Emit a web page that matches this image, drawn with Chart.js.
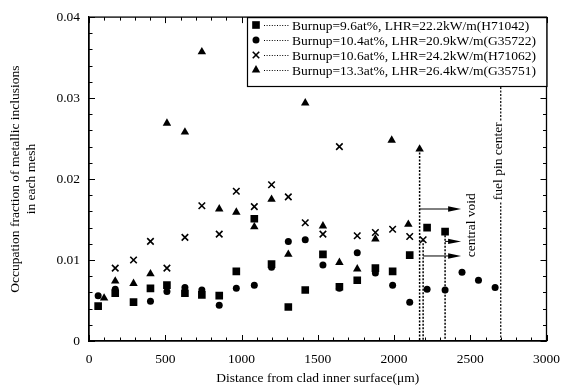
<!DOCTYPE html>
<html><head><meta charset="utf-8">
<script src="https://cdn.jsdelivr.net/npm/chart.js@4.4.0/dist/chart.umd.min.js"></script>
<style>html,body{margin:0;padding:0;background:#fff;}#wrap{width:570px;height:388px;}</style>
</head><body><div id="wrap"><canvas id="c" width="570" height="388"></canvas></div>
<script>
// ---- data (distance from clad inner surface in um, occupation fraction) ----
const seriesLabels = [
  'Burnup=9.6at%, LHR=22.2kW/m(H71042)',
  'Burnup=10.4at%, LHR=20.9kW/m(G35722)',
  'Burnup=10.6at%, LHR=24.2kW/m(H71062)',
  'Burnup=13.3at%, LHR=26.4kW/m(G35751)'
];
const xH71042 = [60,172,292,403,511,629,740,854,966,1084,1197,1307,1418,1534,1642,1759,1878,1991,2103,2217,2335];
const yH71042 = [0.0043,0.0059,0.0048,0.0065,0.0069,0.0059,0.0057,0.0056,0.0086,0.0151,0.0095,0.0042,0.0063,0.0107,0.0067,0.0075,0.0090,0.0086,0.0106,0.0140,0.0135];
const xG35722 = [60,172,403,511,629,740,854,966,1084,1197,1307,1418,1534,1642,1759,1878,1991,2103,2217,2335,2446,2554,2663];
const yG35722 = [0.0056,0.0064,0.0049,0.0061,0.0066,0.0063,0.0044,0.0065,0.0069,0.0091,0.0123,0.0125,0.0094,0.0065,0.0109,0.0084,0.0069,0.0048,0.0064,0.0063,0.0085,0.0075,0.0066];
const xH71062 = [172,292,403,511,629,740,854,966,1084,1197,1307,1418,1534,1642,1759,1878,1991,2103,2191];
const yH71062 = [0.0090,0.0100,0.0123,0.0090,0.0128,0.0167,0.0132,0.0185,0.0166,0.0193,0.0178,0.0146,0.0132,0.0240,0.0130,0.0134,0.0138,0.0129,0.0125];
const xG35751 = [99,172,292,403,511,629,740,854,966,1084,1197,1307,1418,1534,1642,1759,1878,1985,2094,2168];
const yG35751 = [0.0053,0.0074,0.0071,0.0083,0.0269,0.0258,0.0357,0.0163,0.0159,0.0141,0.0175,0.0107,0.0294,0.0142,0.0097,0.0089,0.0126,0.0248,0.0144,0.0237];

// central void boundaries (x, top of dotted line) and arrow heights
const voidEdgeX = [2168, 2191, 2335];
const voidEdgeTop = [0.0237, 0.0125, 0.0135];
const voidArrowY = [0.0163, 0.0105, 0.0123];
const voidArrowEndX = 2440;
const fuelPinCenterX = 2700;
const voidLabel = 'central void';
const voidLabelPos = [2511, 0.0143];
const centerLabel = 'fuel pin center';
const centerLabelY = 0.0222;

const xTitle = 'Distance from clad inner surface(\u03bcm)';
const yTitle = ['Occupation fraction of metallic inclusions', 'in each mesh'];
const xMin = 0, xMax = 3000, xStep = 100, xLabelEvery = 500;
const yMin = 0, yMax = 0.04, yStep = 0.002, yLabelEvery = 0.01;

const FONT = "'Liberation Serif', 'Times New Roman', serif";
const pts = (xs, ys) => xs.map((x, i) => ({x: x, y: ys[i]}));
const styles = ['rect', 'circle', 'crossRot', 'triangle'];
const radii = [5.4, 3.5, 4.6, 4.9];

function drawMarker(ctx, style, x, y, r) {
  ctx.save();
  ctx.fillStyle = '#000'; ctx.strokeStyle = '#000';
  ctx.beginPath();
  if (style === 'rect') {
    const s = Math.SQRT1_2 * r; ctx.rect(x - s, y - s, 2 * s, 2 * s); ctx.fill();
  } else if (style === 'circle') {
    ctx.arc(x, y, r, 0, Math.PI * 2); ctx.fill();
  } else if (style === 'crossRot') {
    const s = Math.SQRT1_2 * r; ctx.lineWidth = 1.6;
    ctx.moveTo(x - s, y - s); ctx.lineTo(x + s, y + s);
    ctx.moveTo(x - s, y + s); ctx.lineTo(x + s, y - s); ctx.stroke();
  } else {
    const w = r * Math.sqrt(3) / 2;
    ctx.moveTo(x, y - r); ctx.lineTo(x + w, y + r / 2); ctx.lineTo(x - w, y + r / 2); ctx.closePath(); ctx.fill();
  }
  ctx.restore();
}

const decor = {
  id: 'decor',
  afterDraw(chart) {
    const ctx = chart.ctx, xs = chart.scales.x, ys = chart.scales.y, a = chart.chartArea;
    ctx.save();
    // frame
    ctx.strokeStyle = '#000'; ctx.lineWidth = 1.3;
    ctx.strokeRect(a.left, a.top, a.right - a.left, a.bottom - a.top);
    // inward ticks
    ctx.lineWidth = 1;
    xs.ticks.forEach(t => {
      const p = Math.round(xs.getPixelForValue(t.value)) + 0.5;
      const major = Math.abs(t.value % xLabelEvery) < 1e-6;
      const L = major ? 6 : 3.5;
      ctx.beginPath(); ctx.moveTo(p, a.bottom); ctx.lineTo(p, a.bottom - L);
      ctx.moveTo(p, a.top); ctx.lineTo(p, a.top + L); ctx.stroke();
    });
    ys.ticks.forEach(t => {
      const p = Math.round(ys.getPixelForValue(t.value)) + 0.5;
      const major = Math.abs(Math.round(t.value * 1000) % Math.round(yLabelEvery * 1000)) === 0;
      const L = major ? 6 : 3.5;
      ctx.beginPath(); ctx.moveTo(a.left, p); ctx.lineTo(a.left + L, p);
      ctx.moveTo(a.right, p); ctx.lineTo(a.right - L, p); ctx.stroke();
    });
    // dotted void edges
    ctx.setLineDash([2, 1.5]); ctx.lineWidth = 1.5;
    voidEdgeX.forEach((vx, i) => {
      const p = xs.getPixelForValue(vx);
      ctx.beginPath(); ctx.moveTo(p, ys.getPixelForValue(voidEdgeTop[i])); ctx.lineTo(p, a.bottom); ctx.stroke();
    });
    // fuel pin center line
    const fp = xs.getPixelForValue(fuelPinCenterX);
    ctx.lineWidth = 1.2;
    ctx.beginPath(); ctx.moveTo(fp, a.top); ctx.lineTo(fp, a.bottom); ctx.stroke();
    ctx.setLineDash([]);
    // arrows
    ctx.lineWidth = 1;
    const ex = xs.getPixelForValue(voidArrowEndX);
    voidEdgeX.forEach((vx, i) => {
      const sx = xs.getPixelForValue(vx), py = ys.getPixelForValue(voidArrowY[i]);
      ctx.beginPath(); ctx.moveTo(sx, py); ctx.lineTo(ex - 8, py); ctx.stroke();
      ctx.beginPath(); ctx.moveTo(ex, py); ctx.lineTo(ex - 13, py - 2.7); ctx.lineTo(ex - 13, py + 2.7); ctx.closePath(); ctx.fill();
    });
    // rotated labels
    ctx.font = '13.5px ' + FONT; ctx.fillStyle = '#000';
    ctx.textAlign = 'center'; ctx.textBaseline = 'middle';
    ctx.save();
    ctx.translate(xs.getPixelForValue(voidLabelPos[0]), ys.getPixelForValue(voidLabelPos[1]));
    ctx.rotate(-Math.PI / 2); ctx.fillText(voidLabel, 0, 0); ctx.restore();
    ctx.save();
    ctx.translate(fp - 2, ys.getPixelForValue(centerLabelY));
    ctx.rotate(-Math.PI / 2);
    const cw = ctx.measureText(centerLabel).width;
    ctx.fillStyle = '#fff'; ctx.fillRect(-cw / 2 - 1, -6, cw + 2, 12);
    ctx.fillStyle = '#000'; ctx.fillText(centerLabel, 0, 0); ctx.restore();
    // legend
    const lx0 = 247, ly0 = a.top, lx1 = a.right, ly1 = 86;
    ctx.fillStyle = '#fff'; ctx.fillRect(lx0, ly0, lx1 - lx0, ly1 - ly0);
    ctx.strokeStyle = '#000'; ctx.lineWidth = 1.2; ctx.strokeRect(lx0 + 0.5, ly0 + 0.5, lx1 - lx0, ly1 - ly0);
    ctx.font = '13.5px ' + FONT; ctx.textAlign = 'left'; ctx.fillStyle = '#000';
    seriesLabels.forEach((lab, i) => {
      const y = 25 + i * 15;
      drawMarker(ctx, styles[i], 256, y, radii[i]);
      ctx.setLineDash([1, 1.6]); ctx.lineWidth = 1;
      ctx.beginPath(); ctx.moveTo(264, y + 0.5); ctx.lineTo(289, y + 0.5); ctx.stroke();
      ctx.setLineDash([]);
      ctx.fillText(lab, 292, y + 1);
    });
    ctx.restore();
  }
};

const datasets = [
  {data: pts(xH71042, yH71042)}, {data: pts(xG35722, yG35722)},
  {data: pts(xH71062, yH71062)}, {data: pts(xG35751, yG35751)}
].map((d, i) => Object.assign(d, {
  label: seriesLabels[i], pointStyle: styles[i], pointRadius: radii[i],
  backgroundColor: '#000', borderColor: '#000', borderWidth: i === 2 ? 1.6 : 0,
  showLine: false
}));

new Chart(document.getElementById('c'), {
  type: 'scatter',
  data: {datasets},
  options: {
    responsive: false, animation: false, devicePixelRatio: 1,
    layout: {padding: {left: 0, top: 17, right: 15, bottom: 0}},
    plugins: {legend: {display: false}, tooltip: {enabled: false}},
    scales: {
      x: {
        type: 'linear', min: xMin, max: xMax,
        grid: {display: false, drawTicks: false},
        border: {display: true, color: '#000', width: 1.3},
        ticks: {stepSize: xStep, autoSkip: false, maxRotation: 0, padding: 10, color: '#000',
          font: {family: FONT, size: 13.5},
          callback: v => (Math.abs(v % xLabelEvery) < 1e-6 ? String(v) : '')},
        title: {display: true, text: xTitle, color: '#000', font: {family: FONT, size: 13.5, lineHeight: 1.2}, padding: {top: 0, bottom: 1}},
        afterFit: s => { s.height = 47; }
      },
      y: {
        type: 'linear', min: yMin, max: yMax,
        grid: {display: false, drawTicks: false},
        border: {display: true, color: '#000', width: 1.3},
        ticks: {stepSize: yStep, autoSkip: false, padding: 9, color: '#000',
          font: {family: FONT, size: 13.5},
          callback: v => { const k = Math.round(v * 1000); return k % 10 === 0 ? (k === 0 ? '0' : (k / 1000).toFixed(2)) : ''; }},
        title: {display: true, text: yTitle, color: '#000', font: {family: FONT, size: 13.5, lineHeight: 1.15}, padding: {top: 8, bottom: 0}},
        afterFit: s => { s.width = 89; }
      }
    }
  },
  plugins: [decor]
});
</script></body></html>
